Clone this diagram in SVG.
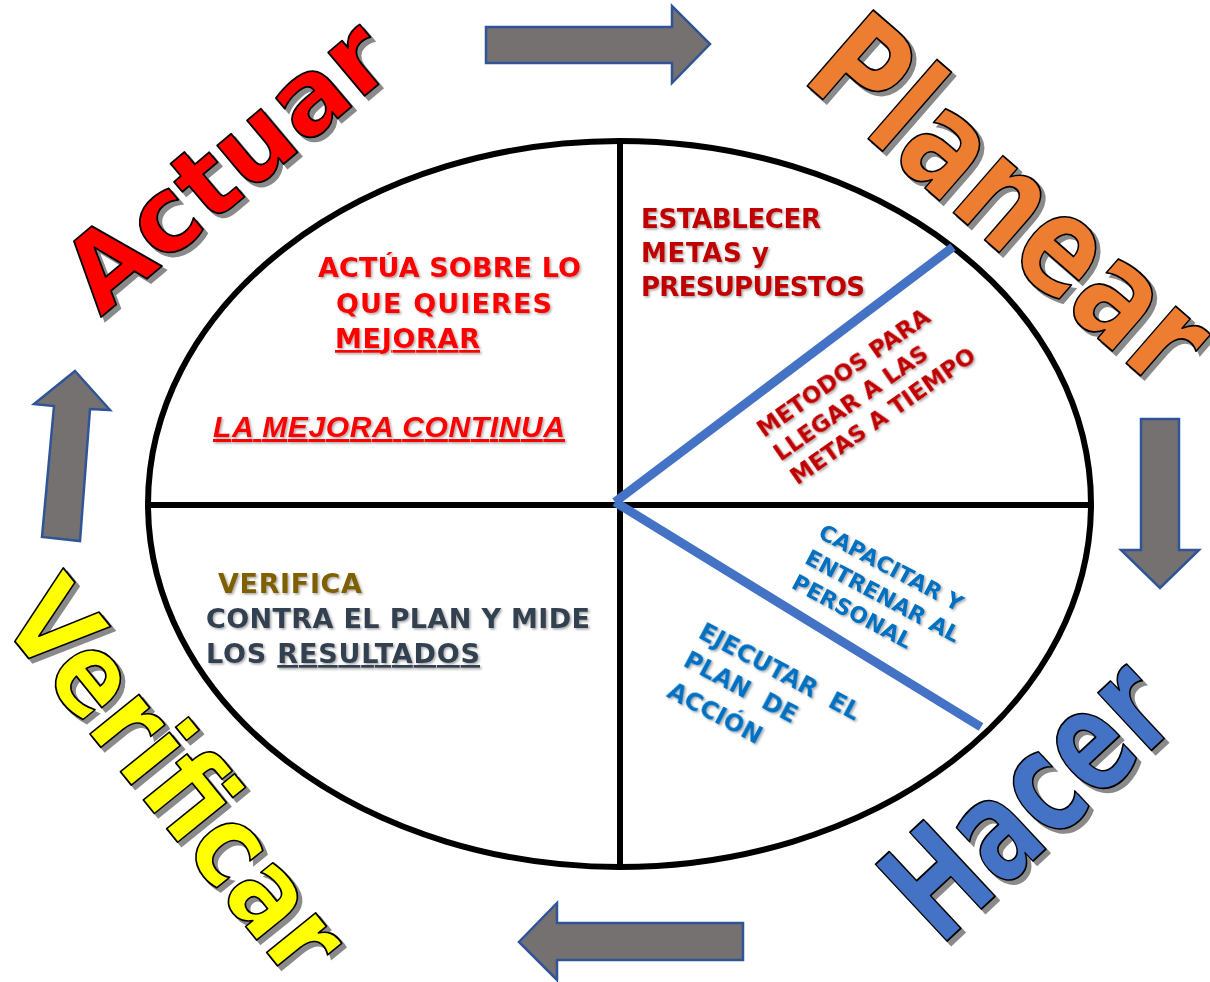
<svg xmlns="http://www.w3.org/2000/svg" width="1210" height="982" viewBox="0 0 1210 982">
<defs>
<style>
.big{font-family:'DejaVu Sans',Verdana,sans-serif;font-weight:bold;text-anchor:middle}
.sh{fill:#8a8a8a;stroke:#8a8a8a;stroke-width:2}
.fg{stroke:#000;stroke-width:1.8;stroke-linejoin:round}
.arrow{fill:#767171;stroke:#2F5597;stroke-width:2.5;stroke-linejoin:miter}
.t{font-family:'DejaVu Sans',Verdana,sans-serif;font-weight:bold;filter:url(#tsh)}
.frame{fill:none;stroke:#000;stroke-width:6}
.blue{stroke:#4472C4;stroke-width:9;stroke-linecap:butt}
.ul{text-decoration:underline}
</style>
<filter id="tsh" x="-10%" y="-20%" width="130%" height="160%">
<feDropShadow dx="1.5" dy="1.5" stdDeviation="1" flood-color="#000" flood-opacity="0.35"/>
</filter>
</defs>
<rect width="1210" height="982" fill="#fff"/>

<g id="circle">
<ellipse cx="619.5" cy="504" rx="471.5" ry="363" fill="#fff" stroke="#000" stroke-width="6"/>
<line class="frame" x1="148" y1="505" x2="1091" y2="505"/>
<line class="frame" x1="620" y1="141" x2="620" y2="867"/>
<line class="blue" x1="615" y1="502" x2="953" y2="247"/>
<line class="blue" x1="615" y1="502" x2="981" y2="727"/>
</g>

<g id="connectors">
<polygon class="arrow" points="486,27 672,27 672,6 710,44 672,83 672,63 486,63"/>
<polygon class="arrow" points="1141,419 1179,419 1179,550 1199,550 1160,588 1121,550 1141,550"/>
<polygon class="arrow" points="743,923 557,923 557,903 519,942 557,980 557,960 743,960"/>
<polygon class="arrow" points="75,371 110,410 90,409 80,541 42,537 54,406 34,404"/>
</g>

<g id="actuar">
<text class="big sh" font-size="104" transform="translate(253,197) rotate(-40)">Actuar</text>
<text class="big fg" font-size="104" fill="#FF0000" transform="translate(249,193) rotate(-40)">Actuar</text>
</g>
<g id="planear">
<text class="big sh" font-size="138" textLength="478" lengthAdjust="spacingAndGlyphs" transform="translate(984,240) rotate(41)">Planear</text>
<text class="big fg" font-size="138" textLength="478" lengthAdjust="spacingAndGlyphs" fill="#ED7D31" transform="translate(980,236) rotate(41)">Planear</text>
</g>
<g id="hacer">
<text class="big sh" font-size="144" textLength="330" lengthAdjust="spacingAndGlyphs" transform="translate(1065,839) rotate(-43)">Hacer</text>
<text class="big fg" font-size="144" textLength="330" lengthAdjust="spacingAndGlyphs" fill="#4472C4" transform="translate(1061,835) rotate(-43)">Hacer</text>
</g>
<g id="verificar">
<text class="big sh" font-size="115" textLength="468" lengthAdjust="spacingAndGlyphs" transform="translate(149,806) rotate(51)">Verificar</text>
<text class="big fg" font-size="115" textLength="468" lengthAdjust="spacingAndGlyphs" fill="#FFFF00" transform="translate(145,802) rotate(51)">Verificar</text>
</g>

<g id="q-actuar" class="t" fill="#FF0000">
<text x="318" y="277" font-size="27" textLength="263">ACTÚA SOBRE LO</text>
<text x="336" y="313" font-size="27" textLength="216">QUE QUIERES</text>
<text x="335" y="348" font-size="27" textLength="145" class="ul">MEJORAR</text>
<text x="213" y="437" font-size="30" textLength="352" class="ul" style="font-family:'Liberation Sans',Arial,sans-serif;font-style:italic">LA MEJORA CONTINUA</text>
</g>

<g id="q-planear" class="t" fill="#C00000">
<text x="641" y="228" font-size="26" textLength="180">ESTABLECER</text>
<text x="641" y="262" font-size="26" textLength="128">METAS y</text>
<text x="641" y="296" font-size="26" textLength="224">PRESUPUESTOS</text>
<g transform="translate(764,438) rotate(-35)" font-size="23">
<text x="0" y="0">METODOS PARA</text>
<text x="0" y="29">LLEGAR A LAS</text>
<text x="0" y="58">METAS A TIEMPO</text>
</g>
</g>

<g id="q-hacer" class="t" fill="#0070C0">
<g transform="translate(817,537) rotate(28)" font-size="22">
<text x="0" y="0">CAPACITAR Y</text>
<text x="0" y="29">ENTRENAR AL</text>
<text x="0" y="57">PERSONAL</text>
</g>
<g transform="translate(697,637) rotate(28)" font-size="24">
<text x="0" y="0" xml:space="preserve">EJECUTAR  EL</text>
<text x="0" y="32" xml:space="preserve">PLAN  DE</text>
<text x="0" y="67">ACCIÓN</text>
</g>
</g>

<g id="q-verificar" class="t">
<text x="218" y="593" font-size="27" textLength="144" fill="#7F6000">VERIFICA</text>
<text x="206" y="628" font-size="27" textLength="384" fill="#333F50">CONTRA EL PLAN Y MIDE</text>
<text x="206" y="663" font-size="27" textLength="274" fill="#333F50">LOS <tspan class="ul">RESULTADOS</tspan></text>
</g>
</svg>
